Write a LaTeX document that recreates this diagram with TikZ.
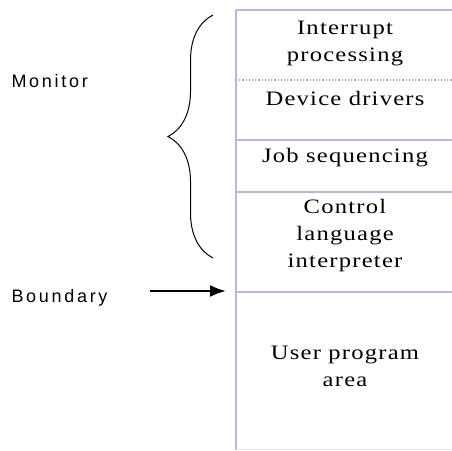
\documentclass[tikz,border=0pt]{standalone}
\usepackage{fontspec}
\setmainfont{Liberation Serif}
\newfontfamily\sidefont[LetterSpace=15]{Liberation Sans}
\newfontfamily\areafont[FakeStretch=1.2,LetterSpace=6]{Liberation Serif}
\usetikzlibrary{arrows.meta,decorations.pathreplacing}
\definecolor{memline}{RGB}{196,178,220}
\begin{document}
\begin{tikzpicture}[x=1pt,y=-1pt,
    area/.style={align=center, font=\areafont\fontsize{20.5}{27}\selectfont},
    side/.style={anchor=west, font=\sidefont\fontsize{18}{21}\selectfont}]
    \useasboundingbox (0,0) rectangle (452,450);

    \draw[memline, line width=2.4pt] (236,10) -- (236,450);
    \draw[memline, line width=1.3pt] (236,10) -- (452,10);
    \draw[memline!70!gray, dotted, line width=1.2pt] (236,80) -- (452,80);
    \draw[memline, line width=1.3pt] (236,140) -- (452,140);
    \draw[memline, line width=1.3pt] (236,192) -- (452,192);
    \draw[memline, line width=1.3pt] (236,292) -- (452,292);
    \draw[memline!40] (236,449) -- (452,449);

    \node (ip) at (345,43) [area] {Interrupt\\processing};
    \node (dd) at (345,98) [area] {Device drivers};
    \node (js) at (345,158) [area] {Job sequencing};
    \node (cl) at (345,236) [area] {Control\\language\\interpreter};
    \node (up) at (345,366) [area] {User program\\area};

    \node (mon) at (8,81) [side] {Monitor};
    \node (bnd) at (8,298) [side] {Boundary};

    \coordinate (tail) at (150,291);
    \coordinate (head) at (226,291);
    \draw[-{Latex[length=16pt,width=12pt]}, line width=2.2pt] (tail) -- (head);

    \coordinate (btop) at (213,15);
    \coordinate (bbot) at (213,258);
    \draw[decorate, decoration={brace, amplitude=45pt}, line width=1pt] (bbot) -- (btop);
\end{tikzpicture}
\end{document}
